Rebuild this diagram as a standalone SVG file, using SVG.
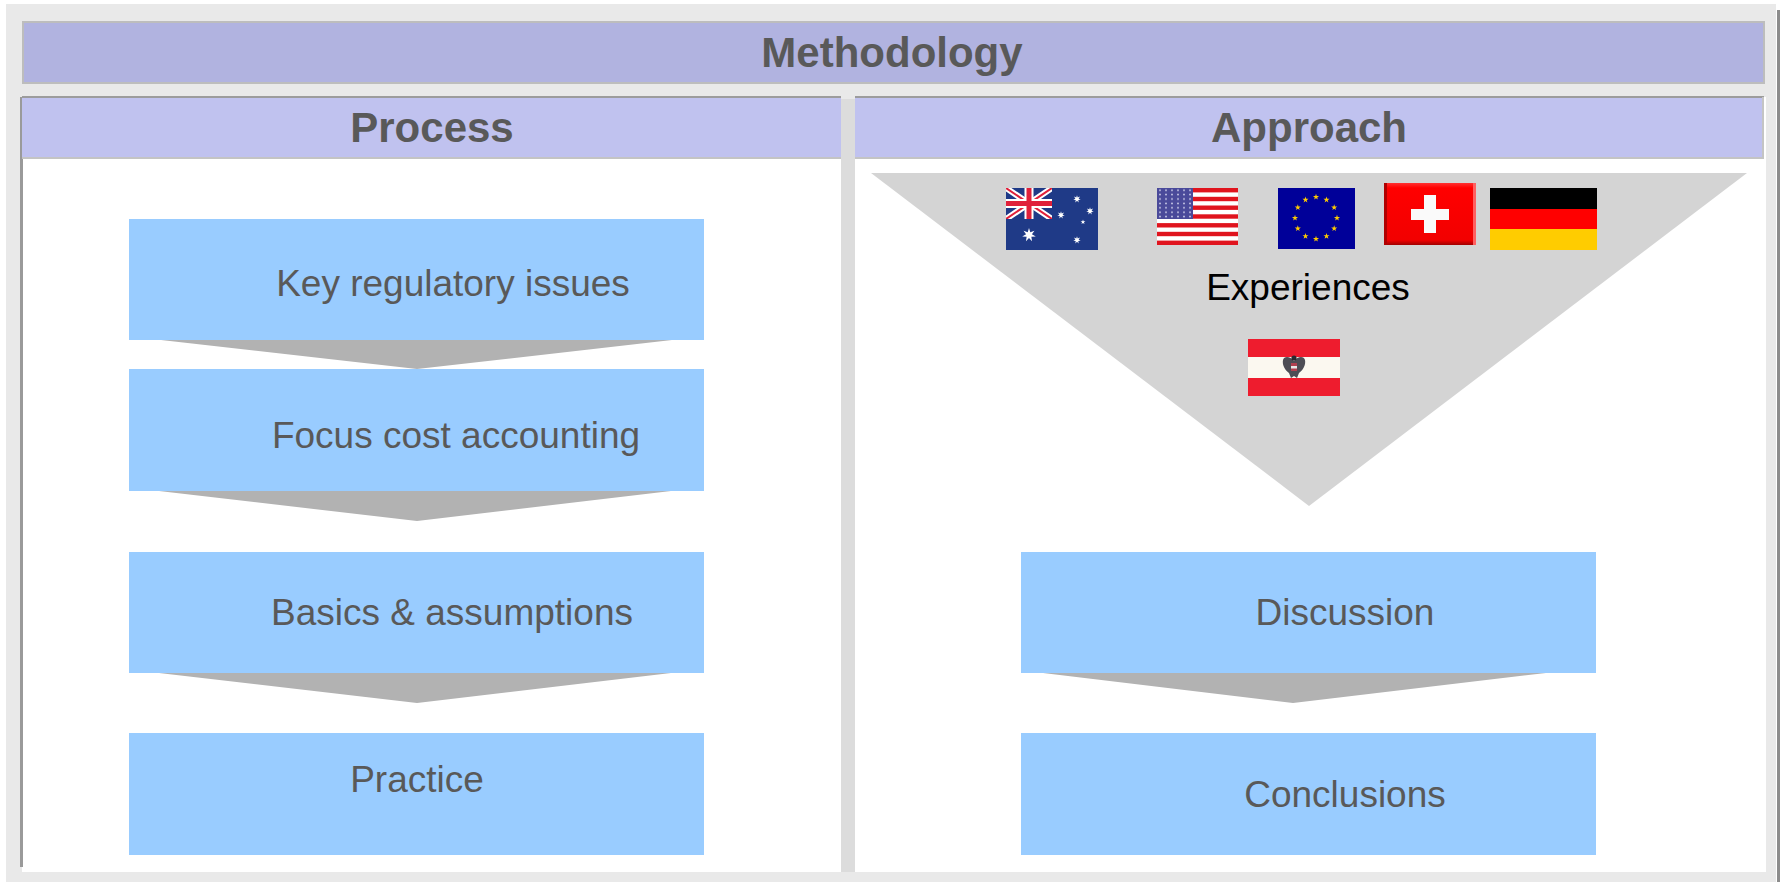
<svg xmlns="http://www.w3.org/2000/svg" xmlns:xlink="http://www.w3.org/1999/xlink" width="1782" height="882" viewBox="0 0 1782 882">
<style>
.t{font-family:"Liberation Sans",Arial,sans-serif;text-anchor:middle}
.h{font-weight:bold;font-size:42px;fill:#595959}
.b{font-size:37px;fill:#595959}
.box{fill:#99ccff}
.chev{fill:#b2b2b2}
.hdr{fill:#c0c2ef}
</style>
<defs>
<path id="s5" d="M0,-3.2 L0.73,-1.01 L3.04,-0.99 L1.19,0.39 L1.88,2.59 L0,1.25 L-1.88,2.59 L-1.19,0.39 L-3.04,-0.99 L-0.73,-1.01Z"/>
<path id="s7" d="M0,-7 L1.3,-2.7 L5.47,-4.36 L2.92,-0.67 L6.82,1.56 L2.35,1.87 L3.04,6.31 L0,3 L-3.04,6.31 L-2.35,1.87 L-6.82,1.56 L-2.92,-0.67 L-5.47,-4.36 L-1.3,-2.7Z"/>
<pattern id="usstars" x="1157" y="188" width="6" height="4.4" patternUnits="userSpaceOnUse">
<circle cx="3" cy="2.2" r="0.9" fill="#d8d8f0"/>
</pattern>
<clipPath id="uj"><rect x="1006" y="188" width="46" height="31"/></clipPath>
<linearGradient id="chshade" x1="0" y1="0" x2="0" y2="1">
<stop offset="0" stop-color="#ff3030"/><stop offset="0.08" stop-color="#ff0000"/><stop offset="0.92" stop-color="#f20000"/><stop offset="1" stop-color="#a00000"/>
</linearGradient>
</defs>

<g id="background">
<rect x="0" y="0" width="1782" height="882" fill="#ffffff"/>
<rect x="6" y="4" width="1770" height="878" fill="#e9e9e9"/>
<rect x="1777" y="10" width="3" height="872" fill="#8c8c8c"/>
<rect x="22" y="97" width="819" height="775" fill="#ffffff"/>
<rect x="855" y="97" width="911" height="775" fill="#ffffff"/>
<rect x="20" y="97" width="3" height="770" fill="#9a9a9a"/>
<rect x="841" y="99" width="14" height="773" fill="#dcdcdc"/>
</g>

<g id="methodology">
<rect x="23" y="22" width="1741" height="61" fill="#b1b3e0" stroke="#bdbdbd" stroke-width="2"/>
<text class="t h" x="892" y="67">Methodology</text>
</g>

<g id="process-header">
<rect class="hdr" x="22" y="97" width="819" height="62"/>
<rect x="22" y="96" width="819" height="2" fill="#9c9c9c"/>
<rect x="22" y="157" width="819" height="2" fill="#c4c4c4"/>
<text class="t h" x="432" y="142">Process</text>
</g>

<g id="approach-header">
<rect class="hdr" x="855" y="97" width="909" height="62"/>
<rect x="855" y="96" width="909" height="2" fill="#9c9c9c"/>
<rect x="855" y="157" width="909" height="2" fill="#c4c4c4"/>
<rect x="1762" y="97" width="2" height="62" fill="#c4c4c4"/>
<text class="t h" x="1309" y="142">Approach</text>
</g>

<g id="experiences">
<polygon points="871,173 1747,173 1309,506" fill="#d4d4d4"/>
<text class="t" x="1308" y="300" font-size="37" fill="#000000">Experiences</text>
</g>

<g id="flag-australia">
<rect x="1006" y="188" width="92" height="62" fill="#1f3a87"/>
<g clip-path="url(#uj)">
<path d="M1006,188 L1052,219 M1052,188 L1006,219" stroke="#ffffff" stroke-width="6"/>
<path d="M1006,188 L1052,219 M1052,188 L1006,219" stroke="#e0203a" stroke-width="2"/>
<path d="M1029,188 V219 M1006,203.5 H1052" stroke="#ffffff" stroke-width="9"/>
<path d="M1029,188 V219 M1006,203.5 H1052" stroke="#e0203a" stroke-width="5"/>
</g>
<use xlink:href="#s7" href="#s7" transform="translate(1029,235)" fill="#ffffff"/>
<use xlink:href="#s7" href="#s7" transform="translate(1077,199) scale(0.55)" fill="#ffffff"/>
<use xlink:href="#s7" href="#s7" transform="translate(1061,215) scale(0.55)" fill="#ffffff"/>
<use xlink:href="#s7" href="#s7" transform="translate(1090,211) scale(0.55)" fill="#ffffff"/>
<use xlink:href="#s5" href="#s5" transform="translate(1083,222) scale(0.8)" fill="#ffffff"/>
<use xlink:href="#s7" href="#s7" transform="translate(1077,240) scale(0.55)" fill="#ffffff"/>
</g>

<g id="flag-usa">
<rect x="1157" y="188" width="81" height="57" fill="#ffffff"/>
<g fill="#e0141e">
<rect x="1157" y="188" width="81" height="4.4"/>
<rect x="1157" y="196.8" width="81" height="4.4"/>
<rect x="1157" y="205.5" width="81" height="4.4"/>
<rect x="1157" y="214.3" width="81" height="4.4"/>
<rect x="1157" y="223.1" width="81" height="4.4"/>
<rect x="1157" y="231.8" width="81" height="4.4"/>
<rect x="1157" y="240.6" width="81" height="4.4"/>
</g>
<rect x="1157" y="188" width="36" height="31" fill="#4a4a9a"/>
<rect x="1157" y="188" width="36" height="31" fill="url(#usstars)"/>
</g>

<g id="flag-eu">
<rect x="1278" y="188" width="77" height="61" fill="#000099"/>
<g fill="#ffcc00">
<use xlink:href="#s5" href="#s5" x="1316" y="197"/>
<use xlink:href="#s5" href="#s5" x="1326.5" y="199.8"/>
<use xlink:href="#s5" href="#s5" x="1334.2" y="207.5"/>
<use xlink:href="#s5" href="#s5" x="1337" y="218"/>
<use xlink:href="#s5" href="#s5" x="1334.2" y="228.5"/>
<use xlink:href="#s5" href="#s5" x="1326.5" y="236.2"/>
<use xlink:href="#s5" href="#s5" x="1316" y="239"/>
<use xlink:href="#s5" href="#s5" x="1305.5" y="236.2"/>
<use xlink:href="#s5" href="#s5" x="1297.8" y="228.5"/>
<use xlink:href="#s5" href="#s5" x="1295" y="218"/>
<use xlink:href="#s5" href="#s5" x="1297.8" y="207.5"/>
<use xlink:href="#s5" href="#s5" x="1305.5" y="199.8"/>
</g>
</g>

<g id="flag-switzerland">
<rect x="1384" y="183" width="92" height="62" fill="url(#chshade)"/>
<rect x="1384" y="183" width="3" height="62" fill="#b00000"/>
<rect x="1473" y="183" width="3" height="62" fill="#ff6060"/>
<rect x="1411" y="209" width="38" height="11" fill="#fafafa"/>
<rect x="1424" y="195" width="12" height="38" fill="#fafafa"/>
</g>

<g id="flag-germany">
<rect x="1490" y="188" width="107" height="21" fill="#000000"/>
<rect x="1490" y="209" width="107" height="20" fill="#ff0000"/>
<rect x="1490" y="229" width="107" height="21" fill="#ffcc00"/>
</g>

<g id="flag-austria">
<rect x="1248" y="339" width="92" height="57" fill="#ee1c2e"/>
<rect x="1248" y="357" width="92" height="21" fill="#fbf8f0"/>
<path d="M1294,361 C1290,356 1284,356 1283,360 C1282,365 1285,370 1289,373 L1291,378 L1294,376 L1297,378 L1299,373 C1303,370 1306,365 1305,360 C1304,356 1298,356 1294,361Z" fill="#3a3a44" opacity="0.9"/>
<circle cx="1294" cy="358" r="2.6" fill="#2a2a30"/>
<rect x="1291" y="363" width="6" height="8" fill="#b04050"/>
<rect x="1291" y="366" width="6" height="2.5" fill="#e8e8e8"/>
</g>

<g id="key-regulatory-issues">
<rect class="box" x="129" y="219" width="575" height="121"/>
<text class="t b" x="453" y="296">Key regulatory issues</text>
</g>

<g id="focus-cost-accounting">
<rect class="box" x="129" y="369" width="575" height="122"/>
<text class="t b" x="456" y="448">Focus cost accounting</text>
</g>

<g id="basics-assumptions">
<rect class="box" x="129" y="552" width="575" height="121"/>
<text class="t b" x="452" y="625">Basics &amp; assumptions</text>
</g>

<g id="practice">
<rect class="box" x="129" y="733" width="575" height="122"/>
<text class="t b" x="417" y="792">Practice</text>
</g>

<g id="discussion">
<rect class="box" x="1021" y="552" width="575" height="121"/>
<text class="t b" x="1345" y="625">Discussion</text>
</g>

<g id="conclusions">
<rect class="box" x="1021" y="733" width="575" height="122"/>
<text class="t b" x="1345" y="807">Conclusions</text>
</g>

<g id="connectors">
<polygon class="chev" points="161,340 672,340 417,369"/>
<polygon class="chev" points="159,491 671,491 417,521"/>
<polygon class="chev" points="159,673 671,673 417,703"/>
<polygon class="chev" points="1043,673 1546,673 1293,703"/>
</g>
</svg>
